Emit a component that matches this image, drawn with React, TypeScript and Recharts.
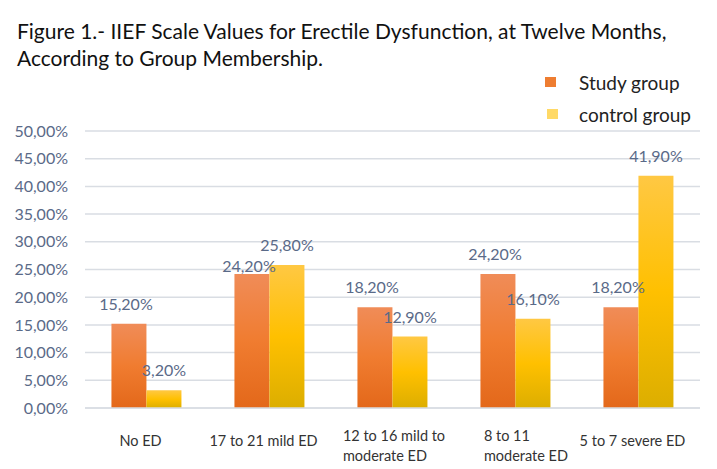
import { BarChart, Bar, XAxis, YAxis, CartesianGrid, LabelList } from "recharts";

const categories = ["No ED", "17 to 21 mild ED", "12 to 16 mild to|moderate ED", "8 to 11|moderate ED", "5 to 7 severe ED"];
const studyGroup = [15.2, 24.2, 18.2, 24.2, 18.2];
const controlGroup = [3.2, 25.8, 12.9, 16.1, 41.9];
const yTicks = [0, 5, 10, 15, 20, 25, 30, 35, 40, 45, 50];

const data = categories.map((name, i) => ({
  name,
  study: studyGroup[i],
  control: controlGroup[i],
}));

const pct = (v: number) => v.toFixed(2).replace(".", ",") + "%";
const FONT = "Lato, 'Open Sans', sans-serif";
const BLUEGRAY = "#5a6a88";

function CategoryTick(props: any) {
  const { x, y, payload } = props;
  const lines: string[] = String(payload.value).split("|");
  if (lines.length === 1) {
    return (
      <text x={x - 6} y={y + 30} textAnchor="middle" fontSize={14.5} fontFamily={FONT} fill="#333">
        {lines[0]}
      </text>
    );
  }
  const longest = Math.max(...lines.map((l) => l.length));
  const left = x + 8 - (longest * 7.2) / 2;
  return (
    <text x={left} y={y + 25} textAnchor="start" fontSize={14.5} fontFamily={FONT} fill="#333">
      {lines.map((l, i) => (
        <tspan key={i} x={left} dy={i === 0 ? 0 : 20}>
          {l}
        </tspan>
      ))}
    </text>
  );
}

// Study-group label: pushed down next to a slightly taller control bar, as Excel does
function StudyLabel(props: any) {
  const { x, y, width, value, index } = props;
  const ctrl = controlGroup[index];
  const crowded = ctrl > value && ctrl - value < 3;
  return (
    <text
      x={x + width / 2 - 3}
      y={y - (crowded ? 2 : 14)}
      textAnchor="middle"
      fontSize={16}
      fontFamily={FONT}
      fill={BLUEGRAY}
    >
      {pct(Number(value))}
    </text>
  );
}

function LegendBox() {
  const items = [
    { label: "Study group", color: "#ee7d31", dx: 0 },
    { label: "control group", color: "#ffd966", dx: 2 },
  ];
  return (
    <div
      style={{
        position: "absolute",
        left: 545,
        top: 66,
        width: 172,
        fontFamily: FONT,
        fontSize: 19,
        color: "#222",
      }}
    >
      {items.map((it, i) => (
        <div key={i} style={{ display: "flex", alignItems: "center", height: 32 }}>
          <span style={{ width: 11, height: 10, background: it.color, marginLeft: it.dx, marginRight: 23 - it.dx }} />
          <span>{it.label}</span>
        </div>
      ))}
    </div>
  );
}

export default function App() {
  return (
    <div style={{ position: "absolute", left: 0, top: 0, width: 717, height: 469, background: "#fff" }}>
      <div
        style={{
          position: "absolute",
          left: 17,
          top: 17,
          fontFamily: FONT,
          fontSize: 21,
          lineHeight: "27px",
          color: "#111",
          whiteSpace: "nowrap",
        }}
      >
        Figure 1.- IIEF Scale Values for Erectile Dysfunction, at Twelve Months,
        <br />
        According to Group Membership.
      </div>
      <LegendBox />
      <BarChart
        width={717}
        height={469}
        data={data}
        margin={{ top: 131, right: 17, left: 0, bottom: 0 }}
        barCategoryGap="21.5%"
        barGap={0}
        style={{ position: "absolute", left: 0, top: 0 }}
      >
        <defs>
          <linearGradient id="gStudy" x1="0" y1="0" x2="0" y2="1">
            <stop offset="0%" stopColor="#f08c58" />
            <stop offset="50%" stopColor="#f07c30" />
            <stop offset="100%" stopColor="#e3681a" />
          </linearGradient>
          <linearGradient id="gControl" x1="0" y1="0" x2="0" y2="1">
            <stop offset="0%" stopColor="#ffc843" />
            <stop offset="50%" stopColor="#ffc000" />
            <stop offset="100%" stopColor="#dcae00" />
          </linearGradient>
        </defs>
        <CartesianGrid vertical={false} stroke="#d9dde3" strokeWidth={1.5} />
        <XAxis
          dataKey="name"
          height={61}
          tickLine={false}
          axisLine={{ stroke: "#d9dde3", strokeWidth: 1.5 }}
          tick={<CategoryTick />}
          interval={0}
        />
        <YAxis
          width={85}
          domain={[0, 50]}
          ticks={yTicks}
          interval={0}
          tickFormatter={pct}
          tickLine={false}
          axisLine={false}
          tickSize={0}
          tickMargin={17}
          tick={{ fontSize: 16, fontFamily: FONT, fill: BLUEGRAY }}
        />
        <Bar dataKey="study" name="Study group" fill="url(#gStudy)" isAnimationActive={false}>
          <LabelList dataKey="study" content={<StudyLabel />} />
        </Bar>
        <Bar dataKey="control" name="control group" fill="url(#gControl)" isAnimationActive={false}>
          <LabelList
            dataKey="control"
            position="top"
            offset={14}
            formatter={(v: any) => pct(Number(v))}
            style={{ fontSize: 16, fontFamily: FONT, fill: BLUEGRAY }}
          />
        </Bar>
      </BarChart>
    </div>
  );
}
